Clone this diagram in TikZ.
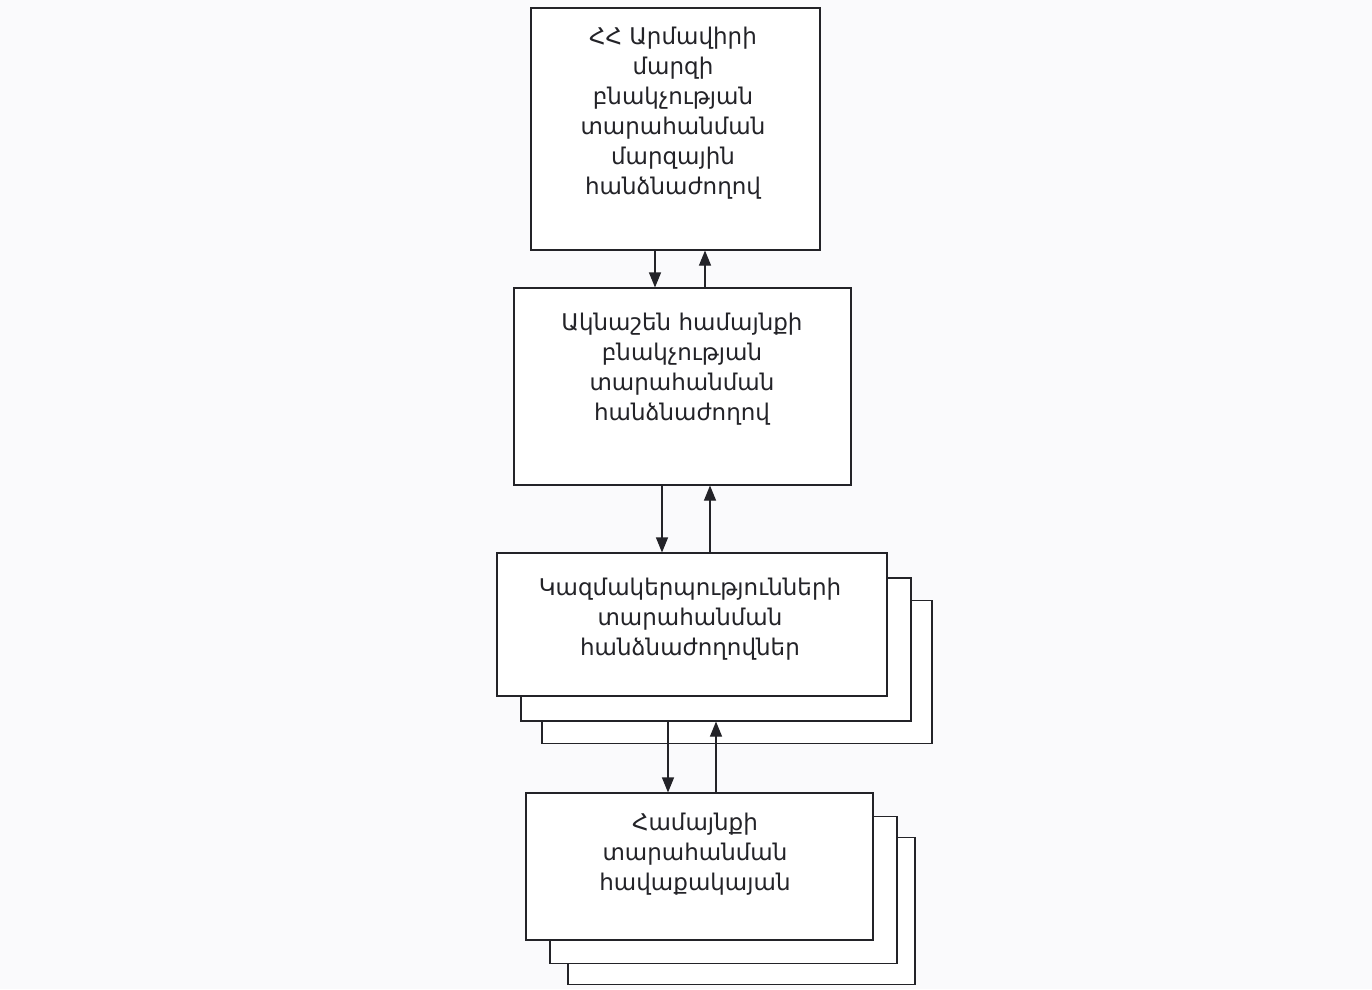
\documentclass[tikz,border=0pt]{standalone}
\usepackage{fontspec}
\newfontfamily\armfont[Script=Armenian]{DejaVu Sans}
\usetikzlibrary{arrows.meta}
\definecolor{paper}{RGB}{250,250,252}
\definecolor{ink}{RGB}{35,35,40}
\tikzset{
  box/.style={draw=ink, fill=white, line width=1.1pt, rectangle, inner sep=0pt},
  txt/.style={anchor=north, align=center, inner sep=0pt, text=ink,
              font=\armfont\fontsize{23}{30}\selectfont},
  arr/.style={draw=ink, line width=1.1pt, -{Triangle[length=15pt,width=12pt]}}
}
\begin{document}
\begin{tikzpicture}[x=1pt,y=-1pt]
\useasboundingbox[fill=paper] (0,0) rectangle (1372,989);

% Box 1
\node[box, minimum width=289pt, minimum height=242pt] (b1) at (675.5,129) {};
\node[txt] (t1) at (673,27) {ՀՀ Արմավիրի\\մարզի\\բնակչության\\տարահանման\\մարզային\\հանձնաժողով};

% Box 2
\node[box, minimum width=337pt, minimum height=197pt] (b2) at (682.5,386.5) {};
\node[txt] (t2) at (682,313) {Ակնաշեն համայնքի\\բնակչության\\տարահանման\\հանձնաժողով};

% Box 3 (stack)
\node[box, minimum width=390pt, minimum height=143pt] (b3c) at (737,672) {};
\node[box, minimum width=390pt, minimum height=143pt] (b3b) at (716,649.5) {};
\node[box, minimum width=390pt, minimum height=143pt] (b3) at (692,624.5) {};
\node[txt] (t3) at (690,578) {Կազմակերպությունների\\տարահանման\\հանձնաժողովներ};

% Box 4 (stack)
\node[box, minimum width=347pt, minimum height=147pt] (b4c) at (741.5,911) {};
\node[box, minimum width=347pt, minimum height=147pt] (b4b) at (723.5,890) {};
\node[box, minimum width=347pt, minimum height=147pt] (b4) at (699.5,866.5) {};
\node[txt] (t4) at (695,813) {Համայնքի\\տարահանման\\հավաքակայան};

% connector columns
\coordinate (c1) at (655,0);
\coordinate (c2) at (705,0);
\coordinate (c3) at (662,0);
\coordinate (c4) at (710,0);
\coordinate (c5) at (668,0);
\coordinate (c6) at (716,0);

\draw[arr] (c1 |- b1.south) -- (c1 |- b2.north);
\draw[arr] (c2 |- b2.north) -- (c2 |- b1.south);
\draw[arr] (c3 |- b2.south) -- (c3 |- b3.north);
\draw[arr] (c4 |- b3.north) -- (c4 |- b2.south);
\draw[arr] (c5 |- b3b.south) -- (c5 |- b4.north);
\draw[arr] (c6 |- b4.north) -- (c6 |- b3b.south);
\end{tikzpicture}
\end{document}
